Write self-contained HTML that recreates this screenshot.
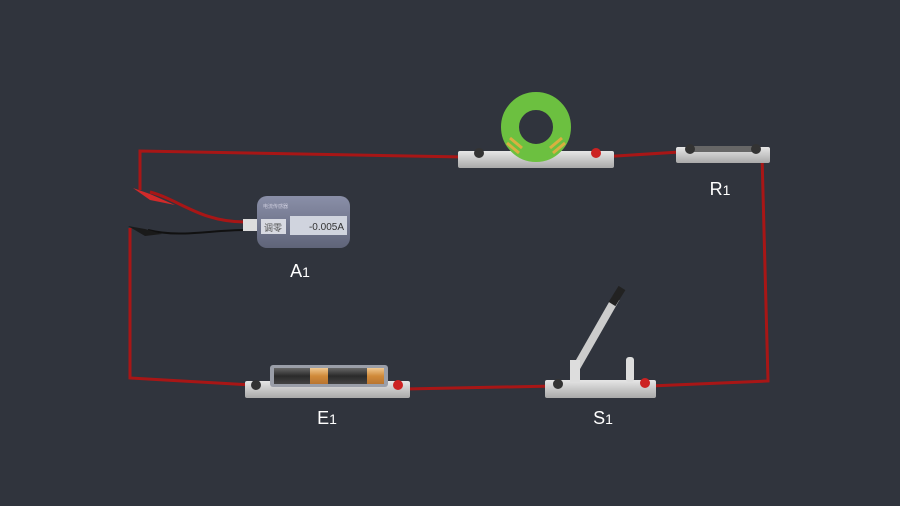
<!DOCTYPE html>
<html><head><meta charset="utf-8"><style>
html,body{margin:0;padding:0;background:#30343d;}
svg{display:block}
text{font-family:"Liberation Sans","Noto Sans CJK SC",sans-serif;}
</style></head><body>
<svg width="900" height="506" viewBox="0 0 900 506" xmlns="http://www.w3.org/2000/svg">
<defs>
<linearGradient id="base" x1="0" y1="0" x2="0" y2="1"><stop offset="0" stop-color="#e6e6e6"/><stop offset="1" stop-color="#a9a9a9"/></linearGradient>
<linearGradient id="meter" x1="0" y1="0" x2="0" y2="1"><stop offset="0" stop-color="#8a8fa8"/><stop offset="1" stop-color="#5f6479"/></linearGradient>
<linearGradient id="bat" x1="0" y1="0" x2="0" y2="1"><stop offset="0" stop-color="#666"/><stop offset="0.5" stop-color="#2a2a2a"/><stop offset="1" stop-color="#444"/></linearGradient>
<linearGradient id="cu" x1="0" y1="0" x2="0" y2="1"><stop offset="0" stop-color="#f0c890"/><stop offset="0.5" stop-color="#d08a3a"/><stop offset="1" stop-color="#b87530"/></linearGradient>
</defs>
<g fill="none" stroke="#a81616" stroke-width="3">
<polyline points="140,190 140,151 465,157"/>
<polyline points="600,157 680,152"/>
<polyline points="762,155 768,381 650,386"/>
<polyline points="555,386 405,389"/>
<polyline points="252,385 130,378 130,228"/>
<path d="M150,192 C180,200 200,222 245,222"/>
</g>
<path d="M148,230 C180,238 210,230 245,230" stroke="#111" stroke-width="2" fill="none"/>
<path d="M133,188 L150,194 L175,205 L150,200 Z" fill="#d02a2a"/>
<path d="M128,226 L145,229 L162,234 L145,236 Z" fill="#1a1a1a"/>
<rect x="257" y="196" width="93" height="52" rx="10" fill="url(#meter)"/>
<rect x="243" y="219" width="14" height="12" fill="#ddd"/>
<rect x="261" y="219" width="25" height="15" fill="#d8dae2"/>
<text x="273" y="231" font-size="9" fill="#555" text-anchor="middle">调零</text>
<rect x="290" y="216" width="57" height="19" fill="#d0d4de"/>
<text x="344" y="230" font-size="10" fill="#333" text-anchor="end">-0.005A</text>
<text x="263" y="208" font-size="5" fill="#ccd">电流传感器</text>
<text x="300" y="277" font-size="18" fill="#fff" text-anchor="middle">A<tspan font-size="14">1</tspan></text>
<rect x="458" y="151" width="156" height="17" rx="2" fill="url(#base)"/>
<circle cx="536" cy="127" r="26" fill="none" stroke="#6cc040" stroke-width="18"/>
<path d="M510,138 l12,10 M507,143 l12,10 M562,138 l-12,10 M565,143 l-12,10" stroke="#d8b040" stroke-width="3"/>
<circle cx="479" cy="153" r="5" fill="#333"/><circle cx="596" cy="153" r="5" fill="#cc2222"/>
<rect x="676" y="147" width="94" height="16" rx="2" fill="url(#base)"/>
<rect x="692" y="146" width="62" height="6" fill="#666"/>
<circle cx="690" cy="149" r="5" fill="#333"/><circle cx="756" cy="149" r="5" fill="#333"/>
<text x="720" y="195" font-size="18" fill="#fff" text-anchor="middle">R<tspan font-size="14">1</tspan></text>
<rect x="245" y="381" width="165" height="17" rx="2" fill="url(#base)"/>
<rect x="270" y="365" width="118" height="22" rx="3" fill="#9a9ea8"/>
<rect x="274" y="368" width="110" height="16" fill="url(#bat)"/>
<rect x="310" y="368" width="18" height="16" fill="url(#cu)"/>
<rect x="367" y="368" width="17" height="16" fill="url(#cu)"/>
<circle cx="256" cy="385" r="5" fill="#333"/><circle cx="398" cy="385" r="5" fill="#cc2222"/>
<text x="327" y="424" font-size="18" fill="#fff" text-anchor="middle">E<tspan font-size="14">1</tspan></text>
<rect x="545" y="380" width="111" height="18" rx="2" fill="url(#base)"/>
<line x1="576" y1="368" x2="616" y2="298" stroke="#ccc" stroke-width="8"/>
<line x1="612" y1="304" x2="622" y2="288" stroke="#222" stroke-width="8"/>
<rect x="570" y="360" width="10" height="22" fill="#ddd"/>
<rect x="626" y="357" width="8" height="25" rx="3" fill="#ddd"/>
<circle cx="558" cy="384" r="5" fill="#333"/><circle cx="645" cy="383" r="5" fill="#cc2222"/>
<text x="603" y="424" font-size="18" fill="#fff" text-anchor="middle">S<tspan font-size="14">1</tspan></text>
</svg>
</body></html>
